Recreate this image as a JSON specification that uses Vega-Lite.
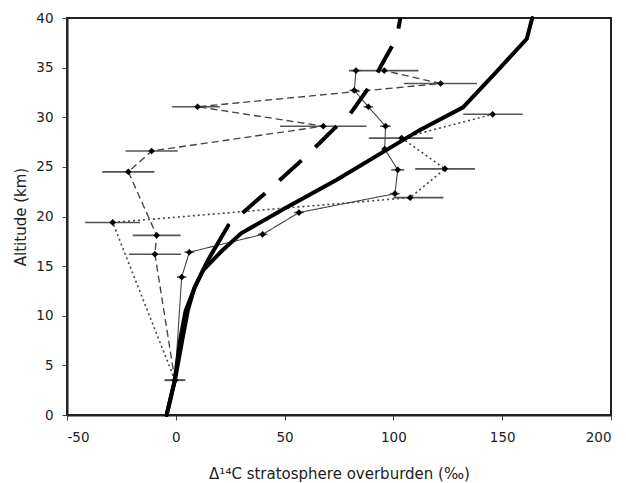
{
  "$schema": "https://vega.github.io/schema/vega-lite/v6.json",
  "width": 544,
  "height": 397,
  "autosize": {"type": "none"},
  "padding": {"left": 67, "top": 18, "right": 15, "bottom": 68},
  "background": "white",
  "config": {
    "view": {"stroke": "#222", "strokeWidth": 2},
    "font": "DejaVu Sans",
    "axis": {
      "grid": false,
      "domainColor": "#222",
      "domainWidth": 2,
      "tickColor": "#444",
      "tickSize": 5,
      "labelFontSize": 13.5,
      "labelColor": "#222",
      "titleFontSize": 15,
      "titleFontWeight": "normal",
      "titleColor": "#222"
    }
  },
  "datasets": {
    "obs": [
      {"series": "A", "ord": 1, "alt": 3.5, "d14c": -0.4, "lo": -5.1, "hi": 4.3},
      {"series": "A", "ord": 2, "alt": 13.9, "d14c": 2.7, "lo": 0.5, "hi": 4.9},
      {"series": "A", "ord": 3, "alt": 16.4, "d14c": 6.2, "lo": 4.0, "hi": 8.4},
      {"series": "A", "ord": 4, "alt": 18.2, "d14c": 39.9, "lo": 37.7, "hi": 42.1},
      {"series": "A", "ord": 5, "alt": 20.4, "d14c": 56.6, "lo": 54.4, "hi": 58.8},
      {"series": "A", "ord": 6, "alt": 22.3, "d14c": 100.7, "lo": 98.5, "hi": 102.9},
      {"series": "A", "ord": 7, "alt": 24.7, "d14c": 102.0, "lo": 99.0, "hi": 105.0},
      {"series": "A", "ord": 8, "alt": 26.8, "d14c": 96.0, "lo": 96.0, "hi": 96.0},
      {"series": "A", "ord": 9, "alt": 29.1, "d14c": 96.4, "lo": 94.0, "hi": 98.8},
      {"series": "A", "ord": 10, "alt": 31.06, "d14c": 88.5, "lo": 86.3, "hi": 90.7},
      {"series": "A", "ord": 11, "alt": 32.7, "d14c": 82.0, "lo": 79.8, "hi": 84.2},
      {"series": "A", "ord": 12, "alt": 34.7, "d14c": 82.8, "lo": 80.6, "hi": 85.0},
      {"series": "B", "ord": 1, "alt": 3.5, "d14c": -0.4, "lo": -5.1, "hi": 4.3},
      {"series": "B", "ord": 2, "alt": 16.2, "d14c": -9.6, "lo": -21.6, "hi": 2.4},
      {"series": "B", "ord": 3, "alt": 18.1, "d14c": -8.8, "lo": -19.8, "hi": 2.2},
      {"series": "B", "ord": 4, "alt": 24.5, "d14c": -21.8, "lo": -33.8, "hi": -9.8},
      {"series": "B", "ord": 5, "alt": 26.6, "d14c": -11.1, "lo": -23.1, "hi": 0.9},
      {"series": "B", "ord": 6, "alt": 29.1, "d14c": 67.8, "lo": 47.9, "hi": 87.7},
      {"series": "B", "ord": 7, "alt": 31.06, "d14c": 10.0, "lo": -1.7, "hi": 20.3},
      {"series": "B", "ord": 8, "alt": 33.4, "d14c": 121.7, "lo": 104.8, "hi": 138.4},
      {"series": "B", "ord": 9, "alt": 34.7, "d14c": 95.8, "lo": 79.6, "hi": 111.5},
      {"series": "C", "ord": 1, "alt": 3.5, "d14c": -0.4, "lo": -5.1, "hi": 4.3},
      {"series": "C", "ord": 2, "alt": 19.4, "d14c": -29.0, "lo": -41.7, "hi": -16.4},
      {"series": "C", "ord": 3, "alt": 21.9, "d14c": 107.7, "lo": 100.0, "hi": 123.0},
      {"series": "C", "ord": 4, "alt": 24.8, "d14c": 123.7, "lo": 110.0, "hi": 137.5},
      {"series": "C", "ord": 5, "alt": 27.9, "d14c": 103.8, "lo": 88.7, "hi": 118.1},
      {"series": "C", "ord": 6, "alt": 30.3, "d14c": 145.6, "lo": 132.1, "hi": 159.4}
    ],
    "model": [
      {"curve": "solid", "alt": 0, "d14c": -4.2},
      {"curve": "solid", "alt": 3.5, "d14c": -0.4},
      {"curve": "solid", "alt": 7.6, "d14c": 3.0},
      {"curve": "solid", "alt": 10.5, "d14c": 5.5},
      {"curve": "solid", "alt": 12.8, "d14c": 8.5},
      {"curve": "solid", "alt": 14.6, "d14c": 12.6},
      {"curve": "solid", "alt": 16.5, "d14c": 21.0},
      {"curve": "solid", "alt": 18.3, "d14c": 30.0},
      {"curve": "solid", "alt": 20.8, "d14c": 50.0},
      {"curve": "solid", "alt": 23.7, "d14c": 74.0},
      {"curve": "solid", "alt": 28.7, "d14c": 112.0},
      {"curve": "solid", "alt": 31.0, "d14c": 132.0},
      {"curve": "solid", "alt": 34.5, "d14c": 147.0},
      {"curve": "solid", "alt": 37.9, "d14c": 161.3},
      {"curve": "solid", "alt": 40.0, "d14c": 163.8},
      {"curve": "dashed", "alt": 0, "d14c": -4.2},
      {"curve": "dashed", "alt": 3.5, "d14c": -0.5},
      {"curve": "dashed", "alt": 7.6, "d14c": 2.0},
      {"curve": "dashed", "alt": 10.5, "d14c": 4.5},
      {"curve": "dashed", "alt": 12.9, "d14c": 8.8},
      {"curve": "dashed", "alt": 15.5, "d14c": 14.5},
      {"curve": "dashed", "alt": 19.1, "d14c": 24.1},
      {"curve": "dashed", "alt": 23.1, "d14c": 45.0},
      {"curve": "dashed", "alt": 26.3, "d14c": 61.0},
      {"curve": "dashed", "alt": 28.9, "d14c": 73.0},
      {"curve": "dashed", "alt": 30.3, "d14c": 80.0},
      {"curve": "dashed", "alt": 33.4, "d14c": 90.0},
      {"curve": "dashed", "alt": 35.3, "d14c": 94.6},
      {"curve": "dashed", "alt": 38.0, "d14c": 101.5},
      {"curve": "dashed", "alt": 40.0, "d14c": 103.2}
    ]
  },
  "encoding": {
    "x": {
      "field": "d14c", "type": "quantitative",
      "scale": {"domain": [-50, 200], "nice": false, "zero": false},
      "axis": {"values": [-50, 0, 50, 100, 150, 200], "labelExpr": "replace(datum.label, '−', '-')", "labelPadding": 10, "title": "Δ¹⁴C stratosphere overburden (‰)", "titlePadding": 23}
    },
    "y": {
      "field": "alt", "type": "quantitative",
      "scale": {"domain": [0, 40], "nice": false, "zero": false},
      "axis": {"values": [0, 5, 10, 15, 20, 25, 30, 35, 40], "labelPadding": 9, "title": "Altitude (km)", "titlePadding": 7}
    }
  },
  "layer": [
    {
      "data": {"name": "obs"},
      "mark": {"type": "rule", "color": "#555", "strokeWidth": 1.6},
      "encoding": {
        "x": {"field": "lo", "type": "quantitative"},
        "x2": {"field": "hi"}
      }
    },
    {
      "data": {"name": "obs"},
      "mark": {"type": "line", "color": "#444"},
      "encoding": {
        "detail": {"field": "series"},
        "order": {"field": "ord", "type": "quantitative"},
        "strokeDash": {"field": "series", "type": "nominal", "scale": {"domain": ["A", "B", "C"], "range": [[1, 0], [7, 4], [2, 3]]}, "legend": null},
        "strokeWidth": {"field": "series", "type": "nominal", "scale": {"domain": ["A", "B", "C"], "range": [1.1, 1.6, 2]}, "legend": null}
      }
    },
    {
      "data": {"name": "obs"},
      "mark": {"type": "point", "shape": "diamond", "filled": true, "color": "#000", "size": 45, "opacity": 1},
      "encoding": {}
    },
    {
      "data": {"name": "model"},
      "transform": [{"filter": "datum.curve == 'solid'"}],
      "mark": {"type": "line", "color": "#000", "strokeWidth": 4, "strokeCap": "round"},
      "encoding": {"order": {"field": "alt", "type": "quantitative"}}
    },
    {
      "data": {"name": "model"},
      "transform": [{"filter": "datum.curve == 'dashed' && datum.alt <= 19.1"}],
      "mark": {"type": "line", "color": "#000", "strokeWidth": 4, "strokeCap": "round"},
      "encoding": {"order": {"field": "alt", "type": "quantitative"}}
    },
    {
      "data": {"name": "model"},
      "transform": [{"filter": "datum.curve == 'dashed' && datum.alt >= 19.1"}],
      "mark": {"type": "line", "color": "#000", "strokeWidth": 4, "strokeDash": [30, 19], "strokeDashOffset": 30},
      "encoding": {"order": {"field": "alt", "type": "quantitative"}}
    }
  ]
}
